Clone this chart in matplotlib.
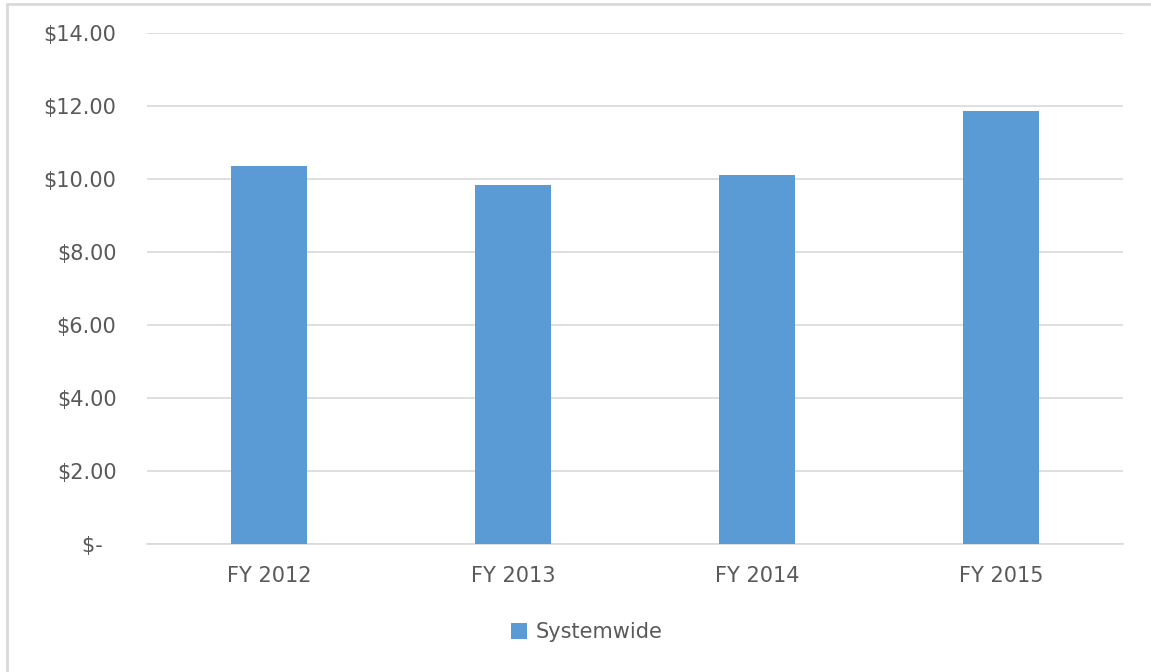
import matplotlib
matplotlib.use("Agg")
import matplotlib.pyplot as plt
from matplotlib.patches import Rectangle

years = ["FY 2012", "FY 2013", "FY 2014", "FY 2015"]
systemwide = [10.37, 9.84, 10.12, 11.88]
y_ticks = [0, 2, 4, 6, 8, 10, 12, 14]
y_labels = ["$-  ", "$2.00", "$4.00", "$6.00", "$8.00", "$10.00", "$12.00", "$14.00"]

plt.rcParams['font.family'] = ['DejaVu Sans']
txt = '#595959'
grid = '#d9d9d9'

fig = plt.figure(figsize=(11.51, 6.72), dpi=100)
ax = fig.add_axes([0.1277, 0.1912, 0.848, 0.759])

x = range(len(years))
ax.bar(x, systemwide, width=0.315, color='#5b9bd5', label='Systemwide', zorder=3)

ax.set_xlim(-0.5, len(years) - 0.5)
ax.set_ylim(0, 14)
ax.set_yticks(y_ticks)
ax.set_yticklabels(y_labels)
ax.set_xticks(list(x))
ax.set_xticklabels(years)
ax.tick_params(axis='both', length=0, labelsize=15, colors=txt)
ax.tick_params(axis='y', pad=22)
ax.tick_params(axis='x', pad=16)
ax.yaxis.grid(True, color=grid, linewidth=1.2, zorder=0)
for s in ['top', 'right', 'left']:
    ax.spines[s].set_visible(False)
ax.spines['bottom'].set_color(grid)
ax.spines['bottom'].set_linewidth(1.2)

leg = fig.legend(loc='center', bbox_to_anchor=(0.5096, 0.0595), frameon=False,
                 fontsize=15, handlelength=0.8, handleheight=0.8, handletextpad=0.4)
for t in leg.get_texts():
    t.set_color(txt)

# outer chart frame
fig.patches.append(Rectangle((7 / 1151, -0.05), 1.1, 1.05 - 4 / 672,
                             transform=fig.transFigure, fill=False,
                             edgecolor=grid, linewidth=2))

fig.savefig('out.png', dpi=100)
